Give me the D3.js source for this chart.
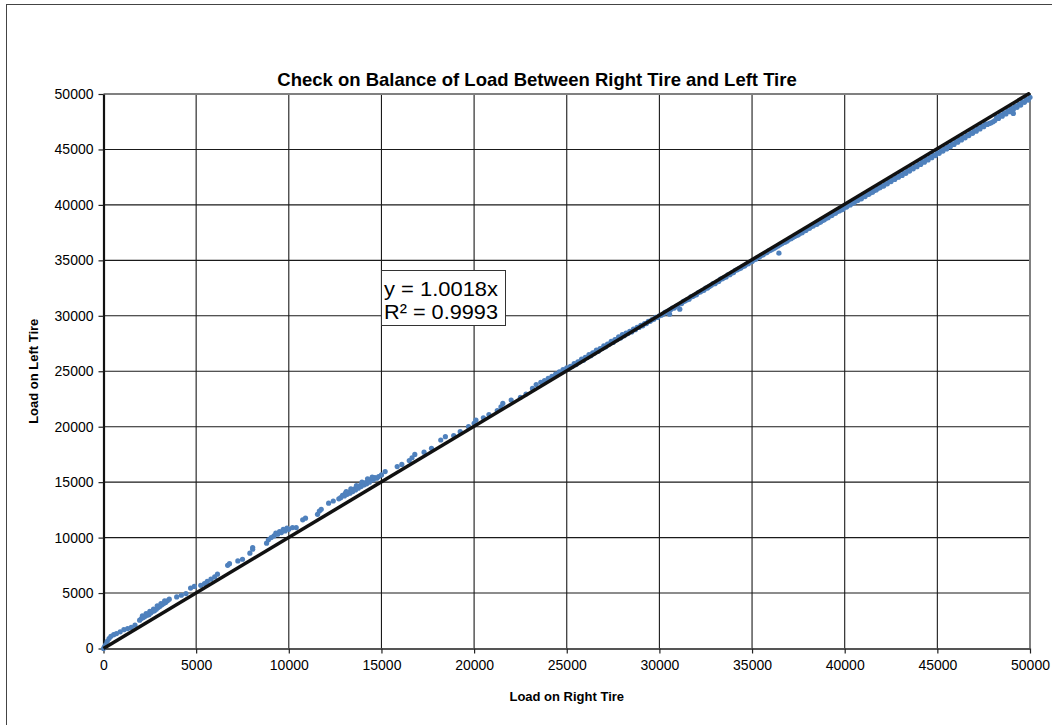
<!DOCTYPE html>
<html>
<head>
<meta charset="utf-8">
<script src="https://cdn.jsdelivr.net/npm/d3@7"></script>
<style>
  html, body { margin: 0; padding: 0; background: #fff; }
  svg { display: block; }
  text { font-family: "Liberation Sans", Arial, sans-serif; fill: #000; }
</style>
</head>
<body>
<svg id="chart" width="1052" height="725"></svg>
<script>
// ---------- DATA ----------
const chartTitle = "Check on Balance of Load Between Right Tire and Left Tire";
const xTitle = "Load on Right Tire";
const yTitle = "Load on Left Tire";
const xTicks = [0, 5000, 10000, 15000, 20000, 25000, 30000, 35000, 40000, 45000, 50000];
const yTicks = [0, 5000, 10000, 15000, 20000, 25000, 30000, 35000, 40000, 45000, 50000];
const trendSlope = 1.0018;
const trendLabel = ["y = 1.0018x", "R\u00B2 = 0.9993"];

// [load on right tire, load on left tire]
const lowLoads = [
  [0,0],[50,150],[120,350],[200,650],[300,900],[400,1100],[550,1250],[700,1350],[900,1500],
  [1100,1700],[1300,1800],[1500,1900],[1700,2100],[1950,2550],[2050,2700],[2150,2800],
  [2250,2900],[2350,3000],[2450,3050],[2550,3200],[2650,3350],[2750,3400],[2850,3550],
  [2950,3700],[3050,3800],[3150,3950],[3250,4050],[3350,4150],[3450,4300],[3550,4450],
  [2100,2950],[2300,3150],[2500,3350],[2700,3550],[2900,3850],[3100,4050],[3300,4300],
  [3950,4650],[4200,4800],[4450,4950],[4700,5450],[4900,5600],[5250,5700],[5450,5850],
  [5600,6050],[5800,6250],[6000,6450],[6150,6700],[6700,7500],[6800,7650],[7250,7900],
  [7500,8050],[7900,8600],[8050,8950],[8050,9100],[8800,9500],[8900,9800],[9050,10000],
  [9200,10150],[9400,10300],[9600,10450],[9800,10600],[10000,10750],[10200,10900],
  [9300,10400],[9500,10550],[9700,10750],[9900,10850]
];
const midLoads = [
  [10400,10900],[10750,11600],[10900,11750],[11550,12100],[11650,12400],[11750,12550],
  [12150,13100],[12400,13300],[12700,13500],[12800,13600],[12900,13800],[13000,13750],
  [13050,14000],[13150,13900],[13250,14100],[13300,14000],[13400,14250],[13450,14150],
  [13550,14400],[13600,14300],[13700,14550],[13750,14450],[13850,14700],[13900,14600],
  [14000,14850],[14050,14750],[14150,14950],[14200,14850],[14300,15100],[14350,15000],
  [14450,15250],[14550,15200],[14650,15400],[14750,15350],[14850,15500],[15000,15650],
  [13100,14150],[13350,14400],[13650,14700],[13950,15000],[14250,15300],[14500,15450],
  [15200,15950],[15850,16400],[16100,16600],[16500,16950],[16650,17200],[16800,17500],
  [17300,17700],[17700,18050],[18200,18800],[18450,19100],[18900,19200],[19250,19550],
  [19700,20000],[20000,20300],[20100,20600],[20500,20800],[20800,21100],[21250,21450],
  [21450,21800],[21550,22100],[22000,22400],[22500,22650],[22800,22950],[23150,23450],
  [23350,23800],[23600,24000],[23800,24150],[24000,24350],[24200,24550],[24400,24750]
];
const highLoads = [
  [24600,24950],[24800,25150],[25000,25300],[25200,25450],[25400,25700],[25600,25850],
  [25800,26100],[26000,26250],[26200,26500],[26400,26650],[26600,26900],[26800,27050],
  [27000,27300],[27200,27450],[27400,27700],[27600,27850],[27800,28100],[28000,28300],
  [28200,28450],[28400,28600],[28600,28800],[28800,28950],[29000,29150],[29200,29300],
  [29400,29500],[29600,29650],[29800,29850],[30000,30000],[30200,30150],[30400,30350],
  [30550,30150],[30600,30550],[30800,30700],[31000,30950],[31100,30600],[31200,31100],
  [31400,31350],[31600,31500],[31800,31750],[32000,31900],[32200,32150],[32400,32300],
  [32600,32500],[32800,32750],[33000,32900],[33200,33100],[33400,33350],[33600,33500],
  [33800,33700],[34000,33900],[34200,34150],[34400,34300],[34600,34500],[34800,34700],
  [35000,34900],[35200,35100],[35400,35300],[35600,35500],[35800,35700],[36000,35900],
  [36200,36100],[36450,35650],[36400,36300],[36600,36500],[36800,36650],[37000,36900],
  [37200,37050],[37400,37250],[37600,37450],[37800,37650],[38000,37850],[38200,38050],
  [38400,38250],[38600,38400],[38800,38600],[39000,38800],[39200,39000],[39400,39200],
  [39600,39400],[39800,39550],[40000,39800],[40200,40000],[40400,40150],[40600,40350],
  [40800,40550],[41000,40750],[41200,40950],[41400,41100],[41600,41300],[41800,41500],
  [42000,41700],[42200,41900],[42400,42100],[42600,42300],[42800,42500],[43000,42700],
  [43200,42900],[43400,43100],[43600,43300],[43800,43500],[44000,43700],[44200,43900],
  [44400,44100],[44600,44300],[44800,44500],[45000,44700],[45200,44900],[45400,45100],
  [45600,45300],[45800,45500],[46000,45700],[46200,45900],[46400,46100],[46600,46300],
  [46800,46500],[47000,46700],[47200,46900],[47400,47100],[47600,47300],[47800,47350],
  [48000,47500],[48200,47900],[48400,48100],[48600,48300],[48800,48500],[49000,48700],
  [49100,48250],[49200,48900],[49400,49100],[49600,49300],[49800,49500],[50000,49700]
];
const highLoadsB = [
  [24700,24900],[24900,25050],[25100,25250],[25300,25450],[25500,25600],[25700,25850],
  [25900,26000],[26100,26250],[26300,26400],[26500,26650],[26700,26800],[26900,27050],
  [27100,27200],[27300,27450],[27500,27600],[27700,27850],[27900,28000],[28100,28200],
  [28300,28400],[28500,28550],[28700,28750],[28900,28950],[29100,29100],[29300,29300],
  [29500,29500],[29700,29700],[29900,29850],[30100,30050],[30300,30300],[30500,30450],
  [30700,30700],[30900,30850],[31300,31300],[31500,31450],[31700,31700],[31900,31850],
  [32100,32100],[32300,32250],[32500,32500],[32700,32650],[32900,32900],[33100,33050],
  [33300,33300],[33500,33450],[33700,33700],[33900,33850],[34100,34100],[34300,34250],
  [34500,34450],[34700,34650],[34900,34850],[35100,35050],[35300,35250],[35500,35450],
  [35700,35650],[35900,35850],[36100,36000],[36300,36200],[36500,36400],[36700,36600],
  [36900,36750],[37100,36950],[37300,37150],[37500,37300],[37700,37500],[37900,37700],
  [38100,37900],[38300,38100],[38500,38250],[38700,38450],[38900,38650],[39100,38850],
  [39300,39050],[39500,39250],[39700,39450],[39900,39600],[40100,39800],[40300,40000],
  [40500,40200],[40700,40400],[40900,40550],[41100,40750],[41300,40950],[41500,41150],
  [41700,41350],[41900,41550],[42100,41700],[42300,41900],[42500,42100],[42700,42300],
  [42900,42500],[43100,42650],[43300,42850],[43500,43050],[43700,43250],[43900,43450],
  [44100,43650],[44300,43850],[44500,44050],[44700,44250],[44900,44450],[45100,44650],
  [45300,44850],[45500,45050],[45700,45250],[45900,45450],[46100,45650],[46300,45850],
  [46500,46050],[46700,46250],[46900,46450],[47100,46650],[47300,46850],[47500,47050],
  [47700,47250],[47900,47400],[48100,47600],[48300,47800],[48500,48000],[48700,48200],
  [48900,48400],[49100,48600],[49300,48800],[49500,49000],[49700,49250],[49900,49450]
];

// ---------- LAYOUT ----------
const svg = d3.select("#chart");
const plot = { left: 103.5, right: 1030, top: 94, bottom: 648.5 };
const x = d3.scaleLinear().domain([0, 50000]).range([plot.left, plot.right]);
const y = d3.scaleLinear().domain([0, 50000]).range([plot.bottom, plot.top]);

svg.append("rect").attr("width", 1052).attr("height", 725).attr("fill", "#fff");
// outer chart border (only top/left visible)
svg.append("rect").attr("x", 6.5).attr("y", 4.5).attr("width", 1100).attr("height", 800)
  .attr("fill", "none").attr("stroke", "#444").attr("stroke-width", 1);

// gridlines
const grid = svg.append("g");
grid.selectAll(".vg").data(xTicks.slice(1, -1)).join("line")
  .attr("x1", d => x(d)).attr("x2", d => x(d)).attr("y1", plot.top).attr("y2", plot.bottom)
  .attr("stroke", "#1a1a1a").attr("stroke-width", 1.1);
grid.selectAll(".hg").data(yTicks.slice(1, -1)).join("line")
  .attr("x1", plot.left).attr("x2", plot.right).attr("y1", d => y(d)).attr("y2", d => y(d))
  .attr("stroke", "#1a1a1a").attr("stroke-width", 1.1);
// top/right frame
svg.append("path")
  .attr("d", `M${plot.left},${plot.top}H${plot.right}V${plot.bottom}`)
  .attr("fill", "none").attr("stroke", "#808080").attr("stroke-width", 2);

// axes
const xAxis = svg.append("g").attr("transform", `translate(0,${plot.bottom})`)
  .call(d3.axisBottom(x).tickValues(xTicks).tickFormat(d3.format("d")).tickSize(5).tickSizeOuter(0).tickPadding(7));
const yAxis = svg.append("g").attr("transform", `translate(${plot.left},0)`)
  .call(d3.axisLeft(y).tickValues(yTicks).tickFormat(d3.format("d")).tickSize(5).tickSizeOuter(0).tickPadding(5));
[xAxis, yAxis].forEach(a => {
  a.selectAll("text").style("font-size", "14px").attr("fill", "#000")
    .style("font-family", "'Liberation Sans', Arial, sans-serif");
  a.selectAll(".tick line").attr("stroke", "#222").attr("stroke-width", 1.2);
});
xAxis.select(".domain").attr("stroke", "#555").attr("stroke-width", 2.2);
yAxis.select(".domain").attr("stroke", "#111").attr("stroke-width", 2.2);

// data points
const allLoads = lowLoads.concat(midLoads, highLoads, highLoadsB);
svg.append("g").selectAll("circle").data(allLoads).join("circle")
  .attr("cx", d => x(d[0])).attr("cy", d => y(d[1])).attr("r", 2.6)
  .attr("fill", "#4F81BD");

// trend line
svg.append("clipPath").attr("id", "pc").append("rect")
  .attr("x", plot.left - 3).attr("y", plot.top - 2).attr("width", plot.right - plot.left + 4).attr("height", plot.bottom - plot.top + 4);
svg.append("line").attr("clip-path", "url(#pc)")
  .attr("x1", x(0)).attr("y1", y(0)).attr("x2", x(50000)).attr("y2", y(50000 * trendSlope))
  .attr("stroke", "#111").attr("stroke-width", 3.5);

// equation label
svg.append("rect").attr("x", 381.5).attr("y", 270.5).attr("width", 124).attr("height", 55)
  .attr("fill", "#fff").attr("stroke", "#333").attr("stroke-width", 1);
svg.append("g").selectAll("text").data(trendLabel).join("text")
  .attr("x", 384).attr("y", (d, i) => 296 + i * 22.5)
  .attr("textLength", 114).attr("lengthAdjust", "spacingAndGlyphs")
  .style("font-size", "20px").text(d => d);

// titles
svg.append("text").attr("x", 537).attr("y", 86).attr("text-anchor", "middle")
  .style("font-size", "18.5px").style("font-weight", "bold").text(chartTitle);
svg.append("text").attr("x", (plot.left + plot.right) / 2).attr("y", 701).attr("text-anchor", "middle")
  .style("font-size", "13px").style("font-weight", "bold").text(xTitle);
svg.append("text").attr("transform", `translate(38,${(plot.top + plot.bottom) / 2}) rotate(-90)`)
  .attr("text-anchor", "middle")
  .style("font-size", "13px").style("font-weight", "bold").text(yTitle);
</script>
</body>
</html>
